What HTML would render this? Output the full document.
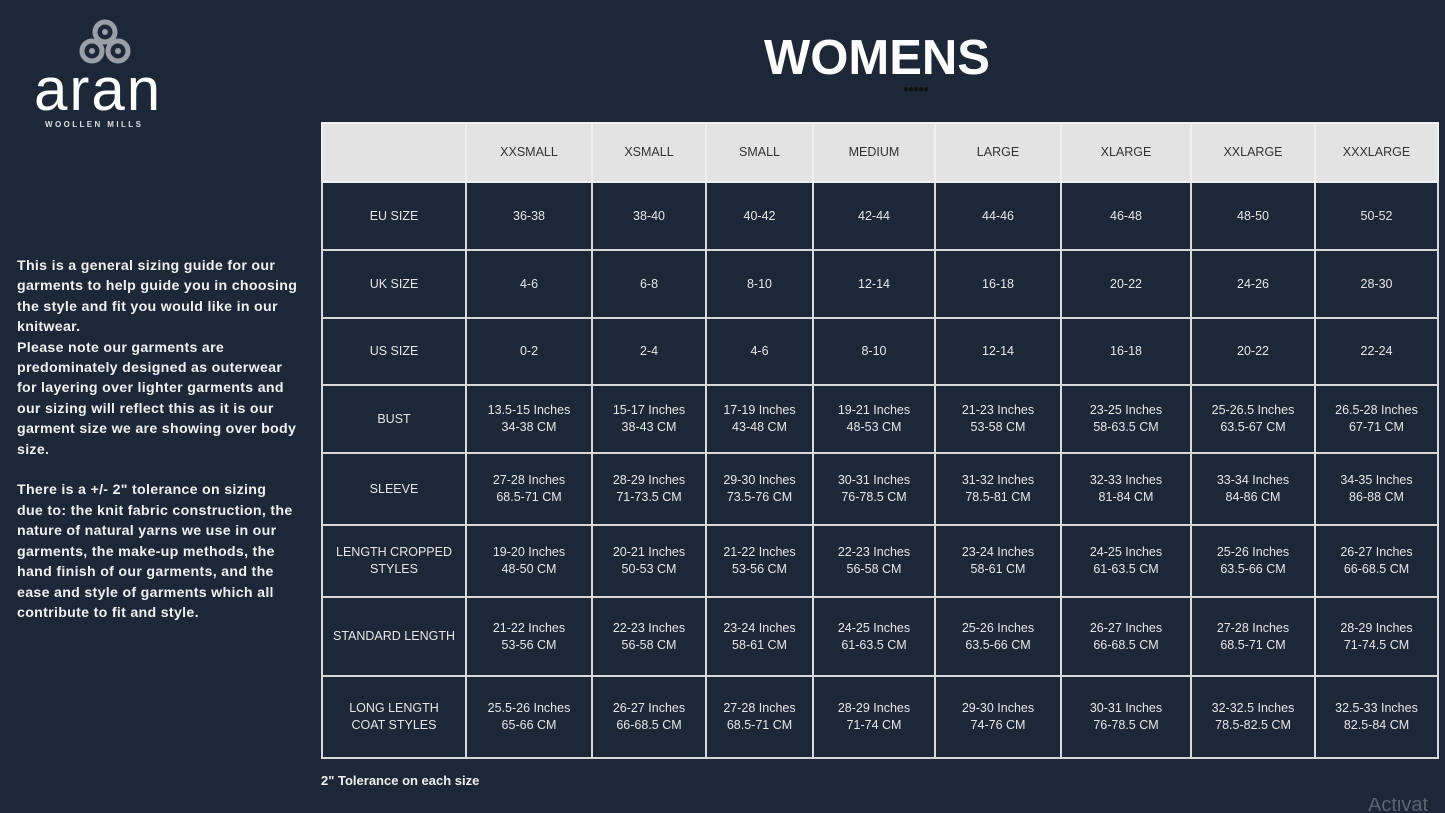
<!DOCTYPE html>
<html style="overflow:hidden;width:1445px;height:813px"><head><meta charset="utf-8">
<style>
body{margin:0;width:1445px;height:813px;background:#1c2838;overflow:hidden;font-family:"Liberation Sans",sans-serif;position:relative;color:#e8e8e8}
.abs{position:absolute}
table{position:absolute;left:321px;top:122px;border-collapse:collapse;table-layout:fixed}
td{border:2px solid #d8d8d8;text-align:center;vertical-align:middle;font-size:12.5px;line-height:17px;color:#e6e6e6;padding:0}
tr.h td{background:#e3e3e3;color:#333;border-color:#f0f0f0}
.txt{left:17px;top:256px;font-size:14.2px;font-weight:bold;line-height:20.4px;color:#f0f0f0;letter-spacing:0.3px;white-space:nowrap}
</style></head><body>
<svg class="abs" style="left:70px;top:15px" width="70" height="55" viewBox="0 0 70 55">
<g fill="none" stroke="#9aa0a8" stroke-width="5">
<circle cx="35" cy="17" r="10"/><circle cx="22" cy="36" r="10"/><circle cx="48" cy="36" r="10"/></g>
<g fill="#9aa0a8"><circle cx="35" cy="17" r="3"/><circle cx="22" cy="36" r="3"/><circle cx="48" cy="36" r="3"/></g>
</svg>
<div class="abs" style="left:34px;top:62px;font-size:60px;line-height:56px;color:#fff;letter-spacing:2px">aran</div>
<div class="abs" style="left:45px;top:120px;font-size:8px;font-weight:bold;letter-spacing:2.4px;color:#ddd">WOOLLEN MILLS</div>
<div class="abs" style="left:727px;top:30px;width:300px;text-align:center;font-size:49px;font-weight:bold;color:#fff">WOMENS</div>
<div class="abs" style="left:903px;top:84px;font-size:10px;letter-spacing:-1px;color:#111">●●●●●</div>
<div class="abs txt">This is a general sizing guide for our<br>garments to help guide you in choosing<br>the style and fit you would like in our<br>knitwear.<br>Please note our garments are<br>predominately designed as outerwear<br>for layering over lighter garments and<br>our sizing will reflect this as it is our<br>garment size we are showing over body<br>size.<br><br>There is a +/- 2" tolerance on sizing<br>due to: the knit fabric construction, the<br>nature of natural yarns we use in our<br>garments, the make-up methods, the<br>hand finish of our garments, and the<br>ease and style of garments which all<br>contribute to fit and style.</div>
<table>
<colgroup><col style="width:144px"><col style="width:126px"><col style="width:114px"><col style="width:107px"><col style="width:122px"><col style="width:126px"><col style="width:130px"><col style="width:124px"><col style="width:123px"></colgroup>
<tr class="h" style="height:59px"><td></td><td>XXSMALL</td><td>XSMALL</td><td>SMALL</td><td>MEDIUM</td><td>LARGE</td><td>XLARGE</td><td>XXLARGE</td><td>XXXLARGE</td></tr>
<tr style="height:68px"><td>EU SIZE</td><td>36-38</td><td>38-40</td><td>40-42</td><td>42-44</td><td>44-46</td><td>46-48</td><td>48-50</td><td>50-52</td></tr>
<tr style="height:68px"><td>UK SIZE</td><td>4-6</td><td>6-8</td><td>8-10</td><td>12-14</td><td>16-18</td><td>20-22</td><td>24-26</td><td>28-30</td></tr>
<tr style="height:67px"><td>US SIZE</td><td>0-2</td><td>2-4</td><td>4-6</td><td>8-10</td><td>12-14</td><td>16-18</td><td>20-22</td><td>22-24</td></tr>
<tr style="height:68px"><td>BUST</td><td>13.5-15 Inches<br>34-38 CM</td><td>15-17 Inches<br>38-43 CM</td><td>17-19 Inches<br>43-48 CM</td><td>19-21 Inches<br>48-53 CM</td><td>21-23 Inches<br>53-58 CM</td><td>23-25 Inches<br>58-63.5 CM</td><td>25-26.5 Inches<br>63.5-67 CM</td><td>26.5-28 Inches<br>67-71 CM</td></tr>
<tr style="height:72px"><td>SLEEVE</td><td>27-28 Inches<br>68.5-71 CM</td><td>28-29 Inches<br>71-73.5 CM</td><td>29-30 Inches<br>73.5-76 CM</td><td>30-31 Inches<br>76-78.5 CM</td><td>31-32 Inches<br>78.5-81 CM</td><td>32-33 Inches<br>81-84 CM</td><td>33-34 Inches<br>84-86 CM</td><td>34-35 Inches<br>86-88 CM</td></tr>
<tr style="height:72px"><td>LENGTH CROPPED<br>STYLES</td><td>19-20 Inches<br>48-50 CM</td><td>20-21 Inches<br>50-53 CM</td><td>21-22 Inches<br>53-56 CM</td><td>22-23 Inches<br>56-58 CM</td><td>23-24 Inches<br>58-61 CM</td><td>24-25 Inches<br>61-63.5 CM</td><td>25-26 Inches<br>63.5-66 CM</td><td>26-27 Inches<br>66-68.5 CM</td></tr>
<tr style="height:79px"><td>STANDARD LENGTH</td><td>21-22 Inches<br>53-56 CM</td><td>22-23 Inches<br>56-58 CM</td><td>23-24 Inches<br>58-61 CM</td><td>24-25 Inches<br>61-63.5 CM</td><td>25-26 Inches<br>63.5-66 CM</td><td>26-27 Inches<br>66-68.5 CM</td><td>27-28 Inches<br>68.5-71 CM</td><td>28-29 Inches<br>71-74.5 CM</td></tr>
<tr style="height:82px"><td>LONG LENGTH<br>COAT STYLES</td><td>25.5-26 Inches<br>65-66 CM</td><td>26-27 Inches<br>66-68.5 CM</td><td>27-28 Inches<br>68.5-71 CM</td><td>28-29 Inches<br>71-74 CM</td><td>29-30 Inches<br>74-76 CM</td><td>30-31 Inches<br>76-78.5 CM</td><td>32-32.5 Inches<br>78.5-82.5 CM</td><td>32.5-33 Inches<br>82.5-84 CM</td></tr>
</table>
<div class="abs" style="left:321px;top:773px;font-size:13px;font-weight:bold;color:#eee">2" Tolerance on each size</div>
<div class="abs" style="left:1368px;top:798px;font-size:20px;line-height:15px;height:15px;overflow:hidden;color:#5a6470">Activat</div>
</body></html>
